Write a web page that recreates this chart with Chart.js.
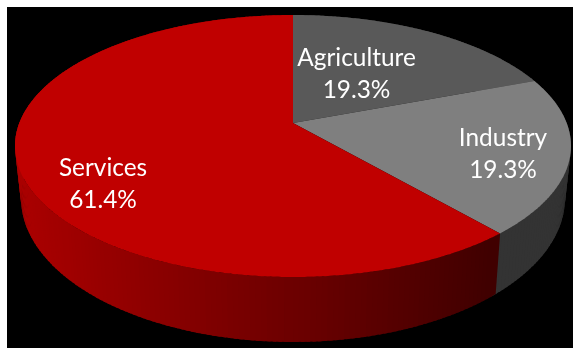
<!DOCTYPE html>
<html>
<head>
<meta charset="utf-8">
<script src="https://cdn.jsdelivr.net/npm/chart.js@4"></script>
<style>
  body { margin: 0; background: #fff; }
  canvas { display: block; }
</style>
</head>
<body>
<canvas id="myChart" width="573" height="348"></canvas>
<script>
const categories = ["Agriculture", "Industry", "Services"];
const shares = [19.3, 19.3, 61.4];

const faceColors = ["#595959", "#7f7f7f", "#c00000"];
const labelSpots = [[356.5, 66], [503, 146], [103, 176]];

// the two rims of the disc, tilted so the far side looks squashed
const tilt = -0.1756;
const topRim = { cx: 293, cy: 146, a: 278, b: 131 };
const bottomRim = { cx: 293, cy: 198, a: 272, b: 144 };

const project = (rim, clock) => {
  const u = Math.sin(clock);
  const v = -Math.cos(clock);
  const w = 1 + tilt * v;
  return [
    rim.cx + (rim.a * Math.sqrt(1 - tilt * tilt) * u) / w,
    rim.cy + (rim.b * (v + tilt)) / w,
  ];
};

// side wall gets darker from left to right
const wallColor = (i, x) => {
  if (i !== 2) return "#333333";
  const f = Math.min(1, Math.max(0, (x - 20) / 470));
  return `rgb(${Math.round(170 - 106 * f)}, 0, 0)`;
};

const perspectivePie = {
  id: "perspectivePie",
  beforeDraw(chart) {
    const { ctx, width, height } = chart;
    ctx.fillStyle = "#000";
    ctx.fillRect(7, 7, width - 7, height - 7);
  },
  beforeDatasetsDraw(chart) {
    const { ctx } = chart;
    const arcs = chart.getDatasetMeta(0).data;
    const step = Math.PI / 180;

    // WALL, far strips first, each one running a bit under its neighbour
    let strips = [];
    arcs.forEach((arc, i) => {
      const start = arc.startAngle + Math.PI / 2;
      const end = arc.endAngle + Math.PI / 2;
      for (let t = start; t < end; t += step) {
        strips.push({ i, t, t2: t + step * 1.6 });
      }
    });
    strips.sort((p, q) => Math.cos(q.t) - Math.cos(p.t));
    for (const s of strips) {
      const a = project(topRim, s.t);
      const b = project(topRim, s.t2);
      const c = project(bottomRim, s.t2);
      const d = project(bottomRim, s.t);
      ctx.fillStyle = wallColor(s.i, (a[0] + b[0]) / 2);
      ctx.beginPath();
      ctx.moveTo(a[0], a[1]);
      ctx.lineTo(b[0], b[1]);
      ctx.lineTo(c[0], c[1]);
      ctx.lineTo(d[0], d[1]);
      ctx.closePath();
      ctx.fill();
    }

    // TOP FACE
    const hub = [topRim.cx, topRim.cy + topRim.b * tilt];
    arcs.forEach((arc, i) => {
      const start = arc.startAngle + Math.PI / 2;
      const end = arc.endAngle + Math.PI / 2;
      ctx.fillStyle = faceColors[i];
      ctx.beginPath();
      ctx.moveTo(hub[0], hub[1]);
      for (let t = start; t < end; t += step / 2) {
        const p = project(topRim, t);
        ctx.lineTo(p[0], p[1]);
      }
      const last = project(topRim, end);
      ctx.lineTo(last[0], last[1]);
      ctx.closePath();
      ctx.fill();
    });

    // LABELS
    ctx.fillStyle = "#fff";
    ctx.font = "24.4px Lato";
    ctx.textAlign = "center";
    ctx.textBaseline = "alphabetic";
    categories.forEach((name, i) => {
      const [x, y] = labelSpots[i];
      ctx.fillText(name, x, y);
      ctx.fillText(shares[i].toFixed(1) + "%", x, y + 32);
    });

    return false;
  },
};

const data = {
  labels: categories,
  datasets: [
    {
      data: shares,
      backgroundColor: faceColors,
      borderWidth: 0,
    },
  ],
};

const config = {
  type: "pie",
  data: data,
  options: {
    responsive: false,
    animation: false,
    plugins: {
      legend: { display: false },
      tooltip: { enabled: false },
    },
  },
  plugins: [perspectivePie],
};

const myChart = new Chart(document.getElementById("myChart"), config);
</script>
</body>
</html>
